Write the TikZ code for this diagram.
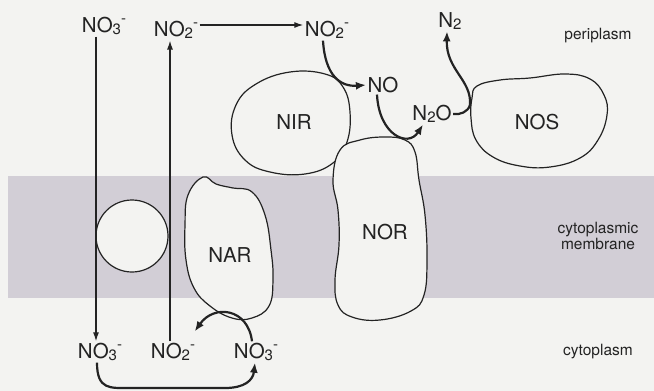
\documentclass[tikz,border=0pt]{standalone}
\usepackage{fontspec}
\setmainfont{TeX Gyre Heros}
\usetikzlibrary{arrows.meta}

\definecolor{paper}{RGB}{243,243,241}
\definecolor{membranecol}{RGB}{210,206,214}
\definecolor{ink}{RGB}{35,35,35}

% index and charge for chemical formulae
\newcommand{\lowidx}[1]{\raisebox{-0.12em}{\fontsize{15}{15}\selectfont #1}}
\newcommand{\anion}{\raisebox{0.42em}{\fontsize{15}{15}\selectfont -}}

\begin{document}
\begin{tikzpicture}[x=1pt,y=-1pt,
  chem/.style={font=\fontsize{20.5}{22}\selectfont, text=ink, inner sep=1.5pt},
  enzyme/.style={font=\fontsize{20.5}{22}\selectfont, text=ink, inner sep=0pt},
  side/.style={font=\fontsize{15.5}{16}\selectfont, text=ink, align=center, inner sep=0pt},
  blob/.style={draw=ink, line width=1.2pt, fill=paper},
  thinarrow/.style={draw=ink, line width=1.2pt, -{Latex[length=9pt,width=6pt]}},
  boldarrow/.style={draw=ink, line width=2.2pt, -{Latex[length=10pt,width=8pt]}},
  boldline/.style={draw=ink, line width=2.2pt}]

% page and membrane band
\fill[paper] (0,0) rectangle (654,391);
\useasboundingbox (0,0) rectangle (654,391);
\fill[membranecol] (8,176) rectangle (654,298);

% compartment labels
\node[side] (peri) at (598,36) {periplasm};
\node[side, font=\fontsize{15.5}{13}\selectfont] (memb) at (598,236) {cytoplasmic\\membrane};
\node[side] (cyto) at (598,352) {cytoplasm};

% enzymes
\draw[blob] plot[smooth cycle, tension=0.7] coordinates {
  (290,72) (325,74) (343,87) (350,112) (347,142) (333,163) (305,174)
  (270,172) (245,160) (232,135) (236,105) (256,84)};
\draw[blob] plot[smooth cycle, tension=0.7] coordinates {
  (477,86) (500,80) (530,78) (565,74) (590,79) (604,95) (607,115)
  (598,140) (580,158) (550,167) (520,166) (493,157) (476,140) (471,118) (472,98)};
\draw[blob] plot[smooth cycle, tension=0.7] coordinates {
  (340,150) (360,140) (385,137) (405,140) (415,152) (419,180) (425,215)
  (427,260) (424,295) (411,311) (380,320) (352,317) (338,305) (335,280)
  (339,245) (338,210) (333,180)};
\draw[blob] plot[smooth cycle, tension=0.7] coordinates {
  (203,177) (216,184) (233,188) (252,192) (265,215) (271,250) (273,280)
  (269,306) (252,318) (232,318) (210,306) (194,288) (186,260) (185,225) (188,195)};

\node[enzyme] (nir) at (294,122) {NIR};
\node[enzyme] (nos) at (537,122) {NOS};
\node[enzyme] (nor) at (385,232) {NOR};
\node[enzyme] (nar) at (230,255) {NAR};

% transporter
\node[circle, draw=ink, line width=1.2pt, fill=paper, minimum size=72pt, inner sep=0pt] (porter) at (132,236) {};

% species
\node[chem] (no3top) at (104,26) {NO\lowidx{3}\anion};
\node[chem] (no2top) at (176,30) {NO\lowidx{2}\anion};
\node[chem] (no2peri) at (327,30) {NO\lowidx{2}\anion};
\node[chem] (no) at (383,85) {NO};
\node[chem] (n2o) at (432,114) {N\lowidx{2}O};
\node[chem] (n2) at (450,21) {N\lowidx{2}};
\node[chem] (no3in) at (100,352) {NO\lowidx{3}\anion};
\node[chem] (no2in) at (173,352) {NO\lowidx{2}\anion};
\node[chem] (no3nar) at (256,352) {NO\lowidx{3}\anion};

\coordinate (nosjoin) at (470,105);

% transport across the membrane
\draw[thinarrow] ([xshift=-8pt]no3top.south) -- ([xshift=-8pt]no3top.south |- no3in.north);
\draw[thinarrow] ([xshift=-3pt]no2in.north) -- ([xshift=-3pt]no2in.north |- no2top.south);
\draw[thinarrow] ([yshift=5pt]no2top.east) -- ([yshift=5pt]no2top.east -| no2peri.west);

% periplasmic reduction steps
\draw[boldarrow] ([xshift=-4pt]no2peri.south) .. controls (325,75) and (340,87) .. (no.west);
\draw[boldarrow] ([xshift=-6pt]no.south) .. controls (379,135) and (408,148) .. ([xshift=-9pt]n2o.south);
\draw[boldline] (n2o.east) .. controls (460,115) and (468,112) .. (nosjoin);
\draw[boldarrow] (nosjoin) .. controls (472,80) and (446,70) .. ([xshift=-3pt]n2.south);

% cytoplasmic nitrate reduction
\draw[boldarrow] ([xshift=-4pt]no3nar.north) .. controls (248,308) and (214,304) .. ([shift={(-2pt,10pt)}]no2in.north east);
\draw[boldarrow] ([xshift=-3pt]no3in.south) .. controls (97,390) and (110,388) .. (130,388)
  -- (225,388) .. controls (245,388) and (253,380) .. ([xshift=-1pt]no3nar.south);
\end{tikzpicture}
\end{document}
